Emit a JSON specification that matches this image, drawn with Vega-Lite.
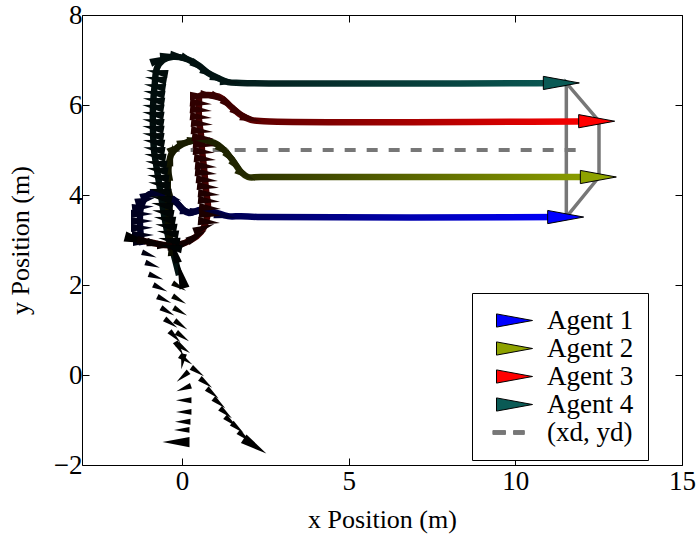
{
"$schema": "https://vega.github.io/schema/vega-lite/v6.json",
"width": 600, "height": 450,
"autosize": {"type": "none"},
"padding": {"left": 82, "top": 15, "right": 16, "bottom": 70},
"config": {
 "font": "Liberation Serif",
 "view": {"stroke": null},
 "axis": {"labelFont": "Liberation Serif", "titleFont": "Liberation Serif", "labelFontSize": 27, "titleFontSize": 26, "titleFontWeight": "normal", "labelColor": "black", "titleColor": "black", "tickColor": "black", "domainColor": "black", "domainWidth": 1, "tickWidth": 1, "grid": false, "labelFlush": false},
 "legend": {"orient": "none", "legendX": 390, "legendY": 278, "title": null, "labelFont": "Liberation Serif", "labelFontSize": 27, "labelColor": "black", "padding": 14, "strokeColor": "black", "fillColor": "white", "cornerRadius": 0, "symbolSize": 576, "symbolStrokeWidth": 1, "labelOffset": 19, "symbolOffset": 15, "rowPadding": 0}
},
"datasets": {
 "d": [{"x": -0.4, "y": 5}, {"x": 12.0, "y": 5}],
 "f": [{"o": 1, "x": 11.53, "y": 3.51}, {"o": 2, "x": 11.53, "y": 6.49}, {"o": 3, "x": 12.51, "y": 5.64}, {"o": 4, "x": 12.51, "y": 4.40}, {"o": 5, "x": 11.53, "y": 3.51}],
 "e": [{"agent": "Agent 1", "x": 11.51, "y": 3.51}, {"agent": "Agent 2", "x": 12.49, "y": 4.40}, {"agent": "Agent 3", "x": 12.44, "y": 5.64}, {"agent": "Agent 4", "x": 11.38, "y": 6.49}],
 "p": [
  {"a":1,"o":1,"x":-1.2,"y":2.89},{"a":1,"o":2,"x":-1.26,"y":3.33},{"a":1,"o":3,"x":-1.23,"y":3.73},{"a":1,"o":4,"x":-1.02,"y":4.0},{"a":1,"o":5,"x":-0.78,"y":4.04},{"a":1,"o":6,"x":-0.54,"y":4.0},{"a":1,"o":7,"x":-0.18,"y":3.84},{"a":1,"o":8,"x":0.03,"y":3.67},{"a":1,"o":9,"x":0.21,"y":3.6},{"a":1,"o":10,"x":0.57,"y":3.67},{"a":1,"o":11,"x":0.96,"y":3.62},{"a":1,"o":12,"x":1.38,"y":3.53},{"a":1,"o":13,"x":1.77,"y":3.53},{"a":1,"o":14,"x":2.37,"y":3.51},{"a":1,"o":15,"x":11.53,"y":3.51},
  {"a":2,"o":1,"x":-0.27,"y":2.78},{"a":2,"o":2,"x":-0.39,"y":3.11},{"a":2,"o":3,"x":-0.42,"y":3.84},{"a":2,"o":4,"x":-0.42,"y":4.44},{"a":2,"o":5,"x":-0.33,"y":4.89},{"a":2,"o":6,"x":-0.12,"y":5.07},{"a":2,"o":7,"x":0.18,"y":5.18},{"a":2,"o":8,"x":0.57,"y":5.22},{"a":2,"o":9,"x":0.96,"y":5.16},{"a":2,"o":10,"x":1.26,"y":5.0},{"a":2,"o":11,"x":1.56,"y":4.73},{"a":2,"o":12,"x":1.77,"y":4.51},{"a":2,"o":13,"x":1.98,"y":4.4},{"a":2,"o":14,"x":2.37,"y":4.4},{"a":2,"o":15,"x":12.51,"y":4.4},
  {"a":3,"o":1,"x":-1.38,"y":3.02},{"a":3,"o":2,"x":-1.02,"y":2.96},{"a":3,"o":3,"x":-0.54,"y":2.89},{"a":3,"o":4,"x":-0.12,"y":2.89},{"a":3,"o":5,"x":0.27,"y":3.0},{"a":3,"o":6,"x":0.57,"y":3.18},{"a":3,"o":7,"x":0.72,"y":3.4},{"a":3,"o":8,"x":0.78,"y":3.73},{"a":3,"o":9,"x":0.72,"y":4.11},{"a":3,"o":10,"x":0.66,"y":4.6},{"a":3,"o":11,"x":0.6,"y":5.0},{"a":3,"o":12,"x":0.57,"y":5.33},{"a":3,"o":13,"x":0.51,"y":5.67},{"a":3,"o":14,"x":0.51,"y":6.0},{"a":3,"o":15,"x":0.54,"y":6.2},{"a":3,"o":16,"x":0.78,"y":6.22},{"a":3,"o":17,"x":1.17,"y":6.16},{"a":3,"o":18,"x":1.47,"y":5.96},{"a":3,"o":19,"x":1.77,"y":5.78},{"a":3,"o":20,"x":2.07,"y":5.67},{"a":3,"o":21,"x":2.46,"y":5.64},{"a":3,"o":22,"x":12.51,"y":5.64},
  {"a":4,"o":1,"x":-0.09,"y":2.22},{"a":4,"o":2,"x":-0.27,"y":2.73},{"a":4,"o":3,"x":-0.39,"y":3.0},{"a":4,"o":4,"x":-0.51,"y":3.44},{"a":4,"o":5,"x":-0.64,"y":4.04},{"a":4,"o":6,"x":-0.75,"y":4.56},{"a":4,"o":7,"x":-0.84,"y":5.0},{"a":4,"o":8,"x":-0.87,"y":5.44},{"a":4,"o":9,"x":-0.87,"y":5.96},{"a":4,"o":10,"x":-0.82,"y":6.44},{"a":4,"o":11,"x":-0.75,"y":6.82},{"a":4,"o":12,"x":-0.57,"y":7.0},{"a":4,"o":13,"x":-0.27,"y":7.07},{"a":4,"o":14,"x":0.06,"y":7.04},{"a":4,"o":15,"x":0.48,"y":6.89},{"a":4,"o":16,"x":0.78,"y":6.71},{"a":4,"o":17,"x":1.08,"y":6.6},{"a":4,"o":18,"x":1.38,"y":6.51},{"a":4,"o":19,"x":1.77,"y":6.49},{"a":4,"o":20,"x":11.53,"y":6.49}
 ],
 "m": [
  {"a":1,"x":-0.18,"y":-1.49,"h":180,"t":0,"k":"s"},
  {"a":1,"x":-0.01,"y":-1.22,"h":180,"t":0,"k":"m"},
  {"a":1,"x":0.02,"y":-1.04,"h":180,"t":0,"k":"m"},
  {"a":1,"x":0.05,"y":-0.82,"h":180,"t":0,"k":"m"},
  {"a":1,"x":0.05,"y":-0.56,"h":180,"t":0,"k":"m"},
  {"a":1,"x":0.05,"y":-0.3,"h":-160,"t":0,"k":"m"},
  {"a":1,"x":0.02,"y":-0.04,"h":-140,"t":0,"k":"m"},
  {"a":1,"x":0.02,"y":0.3,"h":-100,"t":0,"k":"m"},
  {"a":1,"x":-0.08,"y":0.59,"h":-60,"t":0,"k":"m"},
  {"a":1,"x":-0.21,"y":0.85,"h":-45,"t":0.01,"k":"m"},
  {"a":1,"x":-0.33,"y":1.15,"h":-35,"t":0.01,"k":"m"},
  {"a":1,"x":-0.43,"y":1.41,"h":-30,"t":0.02,"k":"m"},
  {"a":1,"x":-0.53,"y":1.67,"h":-25,"t":0.02,"k":"m"},
  {"a":1,"x":-0.65,"y":1.93,"h":-25,"t":0.03,"k":"m"},
  {"a":1,"x":-0.78,"y":2.18,"h":-20,"t":0.04,"k":"m"},
  {"a":1,"x":-0.88,"y":2.44,"h":-20,"t":0.05,"k":"m"},
  {"a":1,"x":-0.98,"y":2.67,"h":-20,"t":0.06,"k":"m"},
  {"a":1,"x":-1.14,"y":2.96,"h":0,"t":0.08,"k":"d"},
  {"a":1,"x":-1.17,"y":3.11,"h":0,"t":0.09,"k":"d"},
  {"a":1,"x":-1.2,"y":3.27,"h":0,"t":0.1,"k":"d"},
  {"a":1,"x":-1.2,"y":3.42,"h":0,"t":0.11,"k":"d"},
  {"a":1,"x":-1.2,"y":3.58,"h":0,"t":0.12,"k":"d"},
  {"a":1,"x":-1.17,"y":3.73,"h":5,"t":0.13,"k":"d"},
  {"a":1,"x":-1.08,"y":3.89,"h":15,"t":0.14,"k":"d"},
  {"a":1,"x":-0.93,"y":4.02,"h":20,"t":0.16,"k":"d"},
  {"a":1,"x":-0.63,"y":4.04,"h":0,"t":0.17,"k":"d"},
  {"a":1,"x":-0.33,"y":3.96,"h":-20,"t":0.18,"k":"d"},
  {"a":1,"x":-0.03,"y":3.76,"h":-35,"t":0.19,"k":"d"},
  {"a":1,"x":0.27,"y":3.62,"h":-10,"t":0.2,"k":"d"},
  {"a":1,"x":0.57,"y":3.64,"h":5,"t":0.21,"k":"d"},
  {"a":1,"x":0.93,"y":3.6,"h":-5,"t":0.22,"k":"d"},
  {"a":1,"x":1.29,"y":3.53,"h":-10,"t":0.23,"k":"d"},
  {"a":2,"x":2.19,"y":-1.58,"h":-33,"t":0,"k":"s"},
  {"a":2,"x":1.87,"y":-1.37,"h":-40,"t":0,"k":"m"},
  {"a":2,"x":1.67,"y":-1.18,"h":-40,"t":0,"k":"m"},
  {"a":2,"x":1.47,"y":-1.04,"h":-40,"t":0,"k":"m"},
  {"a":2,"x":1.32,"y":-0.85,"h":-40,"t":0,"k":"m"},
  {"a":2,"x":1.12,"y":-0.63,"h":-40,"t":0,"k":"m"},
  {"a":2,"x":0.92,"y":-0.41,"h":-40,"t":0,"k":"m"},
  {"a":2,"x":0.72,"y":-0.18,"h":-38,"t":0,"k":"m"},
  {"a":2,"x":0.47,"y":0.07,"h":-35,"t":0,"k":"m"},
  {"a":2,"x":0.12,"y":0.33,"h":-35,"t":0.01,"k":"m"},
  {"a":2,"x":0.05,"y":0.59,"h":-35,"t":0.01,"k":"m"},
  {"a":2,"x":0.02,"y":0.85,"h":-35,"t":0.02,"k":"m"},
  {"a":2,"x":-0.03,"y":1.11,"h":-35,"t":0.02,"k":"m"},
  {"a":2,"x":-0.05,"y":1.41,"h":-30,"t":0.03,"k":"m"},
  {"a":2,"x":-0.08,"y":1.67,"h":-30,"t":0.03,"k":"m"},
  {"a":2,"x":-0.08,"y":1.96,"h":-30,"t":0.04,"k":"m"},
  {"a":2,"x":-0.33,"y":2.89,"h":95,"t":0.08,"k":"d"},
  {"a":2,"x":-0.39,"y":3.22,"h":95,"t":0.09,"k":"d"},
  {"a":2,"x":-0.42,"y":3.56,"h":95,"t":0.1,"k":"d"},
  {"a":2,"x":-0.42,"y":3.89,"h":95,"t":0.11,"k":"d"},
  {"a":2,"x":-0.42,"y":4.22,"h":95,"t":0.12,"k":"d"},
  {"a":2,"x":-0.39,"y":4.56,"h":90,"t":0.13,"k":"d"},
  {"a":2,"x":-0.33,"y":4.89,"h":80,"t":0.14,"k":"d"},
  {"a":2,"x":-0.12,"y":5.07,"h":30,"t":0.16,"k":"d"},
  {"a":2,"x":0.18,"y":5.18,"h":15,"t":0.17,"k":"d"},
  {"a":2,"x":0.48,"y":5.22,"h":5,"t":0.18,"k":"d"},
  {"a":2,"x":0.78,"y":5.2,"h":-5,"t":0.19,"k":"d"},
  {"a":2,"x":1.08,"y":5.11,"h":-20,"t":0.2,"k":"d"},
  {"a":2,"x":1.32,"y":4.96,"h":-35,"t":0.21,"k":"d"},
  {"a":2,"x":1.53,"y":4.78,"h":-45,"t":0.22,"k":"d"},
  {"a":2,"x":1.71,"y":4.6,"h":-45,"t":0.23,"k":"d"},
  {"a":2,"x":1.92,"y":4.44,"h":-30,"t":0.24,"k":"d"},
  {"a":3,"x":-1.32,"y":3.0,"h":-15,"t":0,"k":"s"},
  {"a":3,"x":-1.02,"y":2.96,"h":-10,"t":0.03,"k":"d"},
  {"a":3,"x":-0.72,"y":2.91,"h":-10,"t":0.04,"k":"d"},
  {"a":3,"x":-0.42,"y":2.89,"h":0,"t":0.05,"k":"d"},
  {"a":3,"x":-0.12,"y":2.89,"h":10,"t":0.06,"k":"d"},
  {"a":3,"x":0.18,"y":2.96,"h":20,"t":0.07,"k":"d"},
  {"a":3,"x":0.45,"y":3.09,"h":30,"t":0.08,"k":"d"},
  {"a":3,"x":0.66,"y":3.27,"h":20,"t":0.09,"k":"d"},
  {"a":3,"x":0.81,"y":3.40,"h":-5,"t":0.1,"k":"d"},
  {"a":3,"x":0.84,"y":3.56,"h":-5,"t":0.105,"k":"d"},
  {"a":3,"x":0.84,"y":3.71,"h":-5,"t":0.11,"k":"d"},
  {"a":3,"x":0.81,"y":3.87,"h":-5,"t":0.115,"k":"d"},
  {"a":3,"x":0.81,"y":4.02,"h":-5,"t":0.12,"k":"d"},
  {"a":3,"x":0.78,"y":4.18,"h":-5,"t":0.125,"k":"d"},
  {"a":3,"x":0.75,"y":4.33,"h":-5,"t":0.13,"k":"d"},
  {"a":3,"x":0.72,"y":4.49,"h":-5,"t":0.135,"k":"d"},
  {"a":3,"x":0.72,"y":4.64,"h":-5,"t":0.14,"k":"d"},
  {"a":3,"x":0.69,"y":4.80,"h":-5,"t":0.145,"k":"d"},
  {"a":3,"x":0.66,"y":4.96,"h":-5,"t":0.15,"k":"d"},
  {"a":3,"x":0.66,"y":5.11,"h":-5,"t":0.155,"k":"d"},
  {"a":3,"x":0.63,"y":5.27,"h":-5,"t":0.16,"k":"d"},
  {"a":3,"x":0.60,"y":5.42,"h":-5,"t":0.165,"k":"d"},
  {"a":3,"x":0.60,"y":5.58,"h":-5,"t":0.17,"k":"d"},
  {"a":3,"x":0.57,"y":5.73,"h":-5,"t":0.175,"k":"d"},
  {"a":3,"x":0.57,"y":5.89,"h":-5,"t":0.18,"k":"d"},
  {"a":3,"x":0.57,"y":6.04,"h":-5,"t":0.185,"k":"d"},
  {"a":3,"x":0.57,"y":6.2,"h":0,"t":0.2,"k":"d"},
  {"a":3,"x":0.87,"y":6.2,"h":-10,"t":0.21,"k":"d"},
  {"a":3,"x":1.17,"y":6.13,"h":-25,"t":0.22,"k":"d"},
  {"a":3,"x":1.47,"y":5.98,"h":-35,"t":0.23,"k":"d"},
  {"a":3,"x":1.77,"y":5.8,"h":-30,"t":0.24,"k":"d"},
  {"a":3,"x":2.07,"y":5.69,"h":-15,"t":0.25,"k":"d"},
  {"a":4,"x":-0.03,"y":2.22,"h":105,"t":0,"k":"s"},
  {"a":4,"x":-0.21,"y":2.73,"h":105,"t":0.02,"k":"d"},
  {"a":4,"x":-0.33,"y":2.84,"h":170,"t":0.03,"k":"d"},
  {"a":4,"x":-0.39,"y":3.00,"h":170,"t":0.035,"k":"d"},
  {"a":4,"x":-0.43,"y":3.16,"h":170,"t":0.04,"k":"d"},
  {"a":4,"x":-0.48,"y":3.31,"h":170,"t":0.045,"k":"d"},
  {"a":4,"x":-0.52,"y":3.47,"h":170,"t":0.05,"k":"d"},
  {"a":4,"x":-0.57,"y":3.62,"h":170,"t":0.055,"k":"d"},
  {"a":4,"x":-0.60,"y":3.78,"h":170,"t":0.06,"k":"d"},
  {"a":4,"x":-0.63,"y":3.93,"h":170,"t":0.065,"k":"d"},
  {"a":4,"x":-0.66,"y":4.09,"h":170,"t":0.07,"k":"d"},
  {"a":4,"x":-0.69,"y":4.24,"h":170,"t":0.075,"k":"d"},
  {"a":4,"x":-0.72,"y":4.40,"h":170,"t":0.08,"k":"d"},
  {"a":4,"x":-0.75,"y":4.56,"h":170,"t":0.085,"k":"d"},
  {"a":4,"x":-0.78,"y":4.71,"h":170,"t":0.09,"k":"d"},
  {"a":4,"x":-0.81,"y":4.87,"h":170,"t":0.095,"k":"d"},
  {"a":4,"x":-0.84,"y":5.02,"h":170,"t":0.1,"k":"d"},
  {"a":4,"x":-0.85,"y":5.18,"h":170,"t":0.105,"k":"d"},
  {"a":4,"x":-0.87,"y":5.33,"h":170,"t":0.11,"k":"d"},
  {"a":4,"x":-0.87,"y":5.49,"h":170,"t":0.115,"k":"d"},
  {"a":4,"x":-0.87,"y":5.64,"h":170,"t":0.12,"k":"d"},
  {"a":4,"x":-0.87,"y":5.80,"h":170,"t":0.125,"k":"d"},
  {"a":4,"x":-0.87,"y":5.96,"h":170,"t":0.13,"k":"d"},
  {"a":4,"x":-0.85,"y":6.11,"h":170,"t":0.135,"k":"d"},
  {"a":4,"x":-0.84,"y":6.27,"h":170,"t":0.14,"k":"d"},
  {"a":4,"x":-0.82,"y":6.42,"h":170,"t":0.145,"k":"d"},
  {"a":4,"x":-0.79,"y":6.58,"h":170,"t":0.15,"k":"d"},
  {"a":4,"x":-0.75,"y":6.73,"h":170,"t":0.155,"k":"d"},
  {"a":4,"x":-0.63,"y":7.02,"h":20,"t":0.16,"k":"d"},
  {"a":4,"x":-0.33,"y":7.09,"h":5,"t":0.17,"k":"d"},
  {"a":4,"x":-0.03,"y":7.07,"h":-10,"t":0.18,"k":"d"},
  {"a":4,"x":0.27,"y":6.98,"h":-25,"t":0.19,"k":"d"},
  {"a":4,"x":0.57,"y":6.84,"h":-30,"t":0.2,"k":"d"},
  {"a":4,"x":0.87,"y":6.69,"h":-25,"t":0.21,"k":"d"},
  {"a":4,"x":1.17,"y":6.58,"h":-15,"t":0.22,"k":"d"},
  {"a":4,"x":1.47,"y":6.51,"h":-5,"t":0.23,"k":"d"}
 ]
},
"layer": [
 {"data": {"name": "d"},
  "mark": {"type": "line", "color": "#777777", "strokeWidth": 4, "strokeDash": [11, 11]},
  "encoding": {
   "x": {"field": "x", "type": "quantitative", "scale": {"domain": [-3, 15], "nice": false, "zero": false},
     "axis": {"orient": "bottom", "values": [0, 5, 10, 15], "tickSize": -7, "labelPadding": 10, "title": "x Position (m)", "titlePadding": 12}},
   "y": {"field": "y", "type": "quantitative", "scale": {"domain": [-2, 8], "nice": false, "zero": false},
     "axis": {"orient": "left", "values": [-2, 0, 2, 4, 6, 8], "tickSize": -7, "labelPadding": 7, "title": "y Position (m)", "titlePadding": 20}}
  }},
 {"data": {"name": "f"},
  "mark": {"type": "line", "color": "#777777", "strokeWidth": 3.5},
  "encoding": {
   "x": {"field": "x", "type": "quantitative", "axis": {"orient": "top", "values": [0, 5, 10, 15], "tickSize": -7, "labels": false, "title": null}},
   "y": {"field": "y", "type": "quantitative", "axis": {"orient": "right", "values": [-2, 0, 2, 4, 6, 8], "tickSize": -7, "labels": false, "title": null}},
   "order": {"field": "o", "type": "quantitative"}
  }},
 {"data": {"name": "p"}, "transform": [{"filter": "datum.a == 1"}],
  "mark": {"type": "line", "strokeWidth": 6.5, "interpolate": "catmull-rom", "strokeCap": "butt",
   "color": {"gradient": "linear", "x1": 0, "y1": 0, "x2": 1, "y2": 0, "stops": [{"offset": 0, "color": "#000026"}, {"offset": 1, "color": "#0000ff"}]}},
  "encoding": {"x": {"field": "x", "type": "quantitative", "axis": null}, "y": {"field": "y", "type": "quantitative", "axis": null}, "order": {"field": "o", "type": "quantitative"}}},
 {"data": {"name": "p"}, "transform": [{"filter": "datum.a == 2"}],
  "mark": {"type": "line", "strokeWidth": 6.5, "interpolate": "catmull-rom", "strokeCap": "butt",
   "color": {"gradient": "linear", "x1": 0, "y1": 0, "x2": 1, "y2": 0, "stops": [{"offset": 0, "color": "#151800"}, {"offset": 1, "color": "#8ea200"}]}},
  "encoding": {"x": {"field": "x", "type": "quantitative", "axis": null}, "y": {"field": "y", "type": "quantitative", "axis": null}, "order": {"field": "o", "type": "quantitative"}}},
 {"data": {"name": "p"}, "transform": [{"filter": "datum.a == 3"}],
  "mark": {"type": "line", "strokeWidth": 6.5, "interpolate": "catmull-rom", "strokeCap": "butt",
   "color": {"gradient": "linear", "x1": 0, "y1": 0, "x2": 1, "y2": 0, "stops": [{"offset": 0, "color": "#260000"}, {"offset": 1, "color": "#ff0000"}]}},
  "encoding": {"x": {"field": "x", "type": "quantitative", "axis": null}, "y": {"field": "y", "type": "quantitative", "axis": null}, "order": {"field": "o", "type": "quantitative"}}},
 {"data": {"name": "p"}, "transform": [{"filter": "datum.a == 4"}],
  "mark": {"type": "line", "strokeWidth": 6.5, "interpolate": "catmull-rom", "strokeCap": "butt",
   "color": {"gradient": "linear", "x1": 0, "y1": 0, "x2": 1, "y2": 0, "stops": [{"offset": 0, "color": "#020e0d"}, {"offset": 1, "color": "#0a5a55"}]}},
  "encoding": {"x": {"field": "x", "type": "quantitative", "axis": null}, "y": {"field": "y", "type": "quantitative", "axis": null}, "order": {"field": "o", "type": "quantitative"}}},
 {"data": {"name": "m"}, "transform": [{"filter": "datum.a == 1"}],
  "mark": {"type": "point", "filled": true, "opacity": 1, "strokeWidth": 0, "shape": "M-1,-0.38L1,0L-1,0.38Z"},
  "encoding": {"x": {"field": "x", "type": "quantitative", "axis": null}, "y": {"field": "y", "type": "quantitative", "axis": null},
   "color": {"field": "t", "type": "quantitative", "scale": {"domain": [0, 1], "range": ["#000000", "#0000ff"], "interpolate": "rgb"}, "legend": null},
   "size": {"field": "k", "type": "ordinal", "scale": {"domain": ["s", "d", "m"], "range": [729, 240, 240]}, "legend": null},
   "angle": {"field": "h", "type": "quantitative", "scale": {"domain": [-180, 180], "range": [180, -180]}}}},
 {"data": {"name": "m"}, "transform": [{"filter": "datum.a == 2"}],
  "mark": {"type": "point", "filled": true, "opacity": 1, "strokeWidth": 0, "shape": "M-1,-0.38L1,0L-1,0.38Z"},
  "encoding": {"x": {"field": "x", "type": "quantitative", "axis": null}, "y": {"field": "y", "type": "quantitative", "axis": null},
   "color": {"field": "t", "type": "quantitative", "scale": {"domain": [0, 1], "range": ["#000000", "#8ea200"], "interpolate": "rgb"}, "legend": null},
   "size": {"field": "k", "type": "ordinal", "scale": {"domain": ["s", "d", "m"], "range": [729, 240, 240]}, "legend": null},
   "angle": {"field": "h", "type": "quantitative", "scale": {"domain": [-180, 180], "range": [180, -180]}}}},
 {"data": {"name": "m"}, "transform": [{"filter": "datum.a == 3"}],
  "mark": {"type": "point", "filled": true, "opacity": 1, "strokeWidth": 0, "shape": "M-1,-0.38L1,0L-1,0.38Z"},
  "encoding": {"x": {"field": "x", "type": "quantitative", "axis": null}, "y": {"field": "y", "type": "quantitative", "axis": null},
   "color": {"field": "t", "type": "quantitative", "scale": {"domain": [0, 1], "range": ["#000000", "#ff0000"], "interpolate": "rgb"}, "legend": null},
   "size": {"field": "k", "type": "ordinal", "scale": {"domain": ["s", "d", "m"], "range": [729, 240, 240]}, "legend": null},
   "angle": {"field": "h", "type": "quantitative", "scale": {"domain": [-180, 180], "range": [180, -180]}}}},
 {"data": {"name": "m"}, "transform": [{"filter": "datum.a == 4"}],
  "mark": {"type": "point", "filled": true, "opacity": 1, "strokeWidth": 0, "shape": "M-1,-0.38L1,0L-1,0.38Z"},
  "encoding": {"x": {"field": "x", "type": "quantitative", "axis": null}, "y": {"field": "y", "type": "quantitative", "axis": null},
   "color": {"field": "t", "type": "quantitative", "scale": {"domain": [0, 1], "range": ["#000000", "#0a5a55"], "interpolate": "rgb"}, "legend": null},
   "size": {"field": "k", "type": "ordinal", "scale": {"domain": ["s", "d", "m"], "range": [729, 240, 240]}, "legend": null},
   "angle": {"field": "h", "type": "quantitative", "scale": {"domain": [-180, 180], "range": [180, -180]}}}},
 {"data": {"name": "e"},
  "mark": {"type": "point", "filled": true, "opacity": 1, "size": 576, "strokeWidth": 1},
  "encoding": {"x": {"field": "x", "type": "quantitative", "axis": null}, "y": {"field": "y", "type": "quantitative", "axis": null},
   "color": {"field": "agent", "type": "nominal",
     "scale": {"domain": ["Agent 1", "Agent 2", "Agent 3", "Agent 4", "(xd, yd)"], "range": ["#0000ff", "#8ea200", "#ff0000", "#0a5a55", "#777777"]},
     "legend": {"labelExpr": "datum.label + '\u00a0\u00a0'"}},
   "shape": {"field": "agent", "type": "nominal",
     "scale": {"domain": ["Agent 1", "Agent 2", "Agent 3", "Agent 4", "(xd, yd)"], "range": ["M-1.5,-0.55L1.5,0L-1.5,0.55Z", "M-1.5,-0.55L1.5,0L-1.5,0.55Z", "M-1.5,-0.55L1.5,0L-1.5,0.55Z", "M-1.5,-0.55L1.5,0L-1.5,0.55Z", "M-1.8,-0.16H-0.75V0.16H-1.8Z M-0.08,-0.16H0.82V0.16H-0.08Z"]},
     "legend": {"labelExpr": "datum.label + '\u00a0\u00a0'"}},
   "stroke": {"field": "agent", "type": "nominal",
     "scale": {"domain": ["Agent 1", "Agent 2", "Agent 3", "Agent 4", "(xd, yd)"], "range": ["#000000", "#000000", "#000000", "#000000", "#777777"]},
     "legend": {"labelExpr": "datum.label + '\u00a0\u00a0'"}}
  }}
],
"resolve": {"scale": {"color": "independent", "size": "independent", "shape": "independent", "stroke": "independent"}, "axis": {"x": "independent", "y": "independent"}}
}
